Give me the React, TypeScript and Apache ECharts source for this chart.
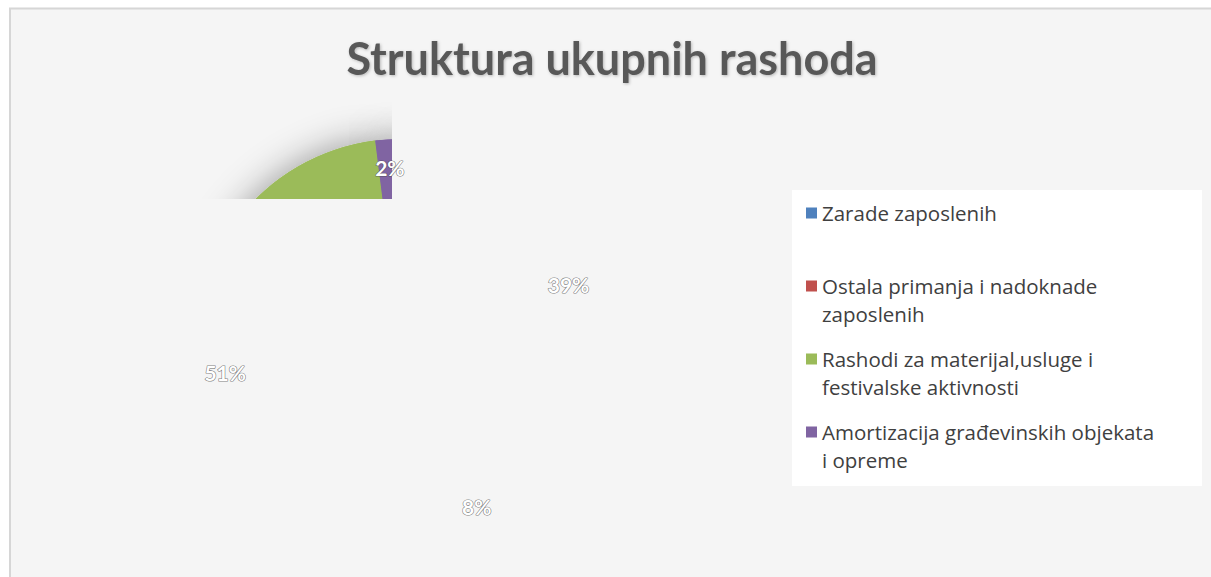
import React, { useEffect, useRef } from "react";
import * as echarts from "echarts";

const chartTitle = "Struktura ukupnih rashoda";
const categories = [
  "Zarade zaposlenih",
  "Ostala primanja i nadoknade zaposlenih",
  "Rashodi za materijal,usluge i festivalske aktivnosti",
  "Amortizacija građevinskih objekata i opreme",
];
const shares = [39, 8, 51, 2];
const legendLines = [
  ["Zarade zaposlenih", " "],
  ["Ostala primanja i nadoknade", "zaposlenih"],
  ["Rashodi za materijal,usluge i", "festivalske aktivnosti"],
  ["Amortizacija građevinskih objekata", "i opreme"],
];
const colors = ["#4F81BD", "#C0504D", "#9BBB59", "#8064A2"];

const FONT = "Lato";
const LEGEND_FONT = "Open Sans";
const BG = "#f5f5f5";
// square marker aligned with the first text line of a two-line legend entry
const LEGEND_ICON = "path://M0,0L11,0M0,8.5L11,8.5L11,19.5L0,19.5ZM0,56L11,56";

export default function App() {
  const ref = useRef<HTMLDivElement>(null);
  useEffect(() => {
    if (!ref.current) return;
    const chart = echarts.init(ref.current, undefined, { renderer: "svg" });
    const center = [401, 345];
    const pieData = categories.map((name, i) => ({
      name,
      value: shares[i],
      itemStyle: { color: colors[i] },
    }));
    chart.setOption({
      animation: false,
      title: {
        text: chartTitle,
        left: 612,
        top: 35,
        padding: 0,
        textAlign: "center",
        textStyle: {
          fontFamily: FONT,
          fontWeight: "bold",
          fontSize: 45,
          color: "#595959",
          textShadowColor: "rgba(0,0,0,0.25)",
          textShadowBlur: 3,
          textShadowOffsetX: 1,
          textShadowOffsetY: 1,
        },
      },
      graphic: [
        {
          type: "rect",
          z: 0,
          silent: true,
          shape: { x: 10, y: 8.5, width: 1215, height: 600 },
          style: { fill: BG, stroke: "#d6d6d6", lineWidth: 2 },
        },
        {
          type: "rect",
          z: 3,
          silent: true,
          shape: { x: 392, y: 80, width: 394, height: 520 },
          style: { fill: BG },
        },
        {
          type: "rect",
          z: 3,
          silent: true,
          shape: { x: 120, y: 199, width: 272, height: 400 },
          style: { fill: BG },
        },
        {
          type: "rect",
          z: 3,
          silent: true,
          shape: { x: 792, y: 190, width: 410, height: 296 },
          style: { fill: "#ffffff" },
        },
      ],
      legend: {
        orient: "vertical",
        left: 806,
        top: 199,
        padding: 0,
        itemWidth: 11,
        itemHeight: 56,
        itemGap: 17,
        icon: LEGEND_ICON,
        selectedMode: false,
        textStyle: {
          fontFamily: LEGEND_FONT,
          fontSize: 20.5,
          color: "#404040",
          lineHeight: 28,
        },
        data: categories,
        formatter: (name: string) => legendLines[categories.indexOf(name)].join("\n"),
      },
      series: [
        {
          type: "pie",
          name: "Sjenka",
          z: 1,
          silent: true,
          center,
          radius: 206,
          startAngle: 90,
          clockwise: true,
          label: { show: false },
          labelLine: { show: false },
          emphasis: { disabled: true },
          itemStyle: {
            shadowBlur: 36,
            shadowColor: "rgba(0,0,0,0.4)",
          },
          data: pieData,
        },
        {
          type: "pie",
          name: "Struktura",
          z: 2,
          silent: true,
          center,
          radius: 206,
          startAngle: 90,
          clockwise: true,
          label: { show: false },
          labelLine: { show: false },
          emphasis: { disabled: true },
          data: pieData,
        },
        {
          type: "pie",
          name: "Oznake",
          z: 5,
          silent: true,
          center,
          radius: [0, 350],
          startAngle: 90,
          clockwise: true,
          emphasis: { disabled: true },
          itemStyle: { color: "rgba(0,0,0,0)" },
          labelLine: { show: false },
          label: {
            show: true,
            position: "inside",
            formatter: "{c}%",
            fontFamily: FONT,
            fontWeight: "bold",
            fontSize: 21,
            color: "#ffffff",
            textBorderColor: "rgba(70,70,70,0.7)",
            textBorderWidth: 1.2,
          },
          data: categories.map((name, i) => ({ name, value: shares[i] })),
        },
      ],
    });
    return () => chart.dispose();
  }, []);
  return (
    <div
      ref={ref}
      style={{ position: "absolute", left: 0, top: 0, width: 1211, height: 577 }}
    />
  );
}
